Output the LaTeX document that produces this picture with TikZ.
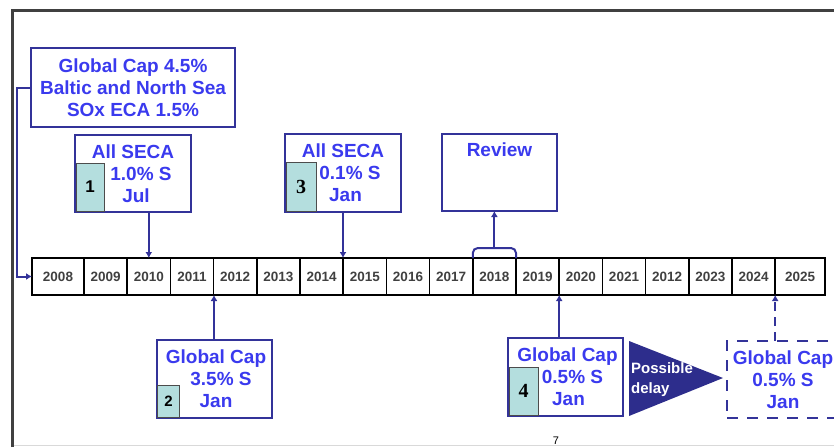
\documentclass[tikz,border=0pt]{standalone}
\usepackage{fontspec}
\setsansfont{Liberation Sans}
\setmainfont{Liberation Serif}
\usetikzlibrary{positioning,arrows.meta}
\definecolor{navy}{RGB}{51,51,153}
\definecolor{capblue}{RGB}{58,58,238}
\definecolor{numfill}{RGB}{180,222,222}
\definecolor{delayfill}{RGB}{45,45,140}
\newcommand{\pushr}[1]{\hspace*{#1}}
\tikzset{
  year/.style={draw=black, line width=1.6pt, outer sep=0pt, inner sep=0pt,
    minimum width=43.2, minimum height=37, text=black!75,
    font=\sffamily\bfseries\fontsize{13.5}{15}\selectfont},
  captext/.style={align=center, text=capblue, inner sep=2pt,
    font=\sffamily\bfseries\fontsize{19}{22}\selectfont},
  capbox/.style={captext, draw=navy, line width=2pt, outer sep=0pt},
  numbox/.style={draw=black!70, fill=numfill, line width=1pt, inner sep=0pt,
    outer sep=0pt, anchor=south west,
    font=\sffamily\bfseries\fontsize{17}{19}\selectfont},
  link/.style={draw=navy, line width=2pt, -{Latex[length=6pt,width=7pt]}},
}
\begin{document}
\begin{tikzpicture}[x=1pt, y=-1pt]
\useasboundingbox (0,0) rectangle (834,447);
\clip (0,0) rectangle (834,447);
% Frame
\draw[black!75, line width=3pt] (12,447) -- (12,10) -- (834,10);
\draw[black!15, line width=1pt] (14,445.5) -- (834,445.5);
% Nodes
\node(y2008)[year, minimum width=52] at (58,276.5){2008};
\node(y2009)[year, right = 0pt of y2008]{2009};
\node(y2010)[year, right = 0pt of y2009]{2010};
\node(y2011)[year, right = 0pt of y2010]{2011};
\node(y2012)[year, right = 0pt of y2011]{2012};
\node(y2013)[year, right = 0pt of y2012]{2013};
\node(y2014)[year, right = 0pt of y2013]{2014};
\node(y2015)[year, right = 0pt of y2014]{2015};
\node(y2016)[year, right = 0pt of y2015]{2016};
\node(y2017)[year, right = 0pt of y2016]{2017};
\node(y2018)[year, right = 0pt of y2017]{2018};
\node(y2019)[year, right = 0pt of y2018]{2019};
\node(y2020)[year, right = 0pt of y2019]{2020};
\node(y2021)[year, right = 0pt of y2020]{2021};
\node(y2022)[year, right = 0pt of y2021]{2012};
\node(y2023)[year, right = 0pt of y2022]{2023};
\node(y2024)[year, right = 0pt of y2023]{2024};
\node(y2025)[year, minimum width=50, right = 0pt of y2024]{2025};
\node(gcap)[capbox, minimum width=204, minimum height=79] at (133,87.5){Global Cap 4.5\%\\Baltic and North Sea\\SOx ECA 1.5\%};
\node(seca1)[capbox, minimum width=116, minimum height=77] at (133,173.5){All SECA\\\pushr{16pt}1.0\% S\\\pushr{6pt}Jul};
\node(n1)[numbox, minimum width=28, minimum height=48] at ([shift={(1pt,1pt)}]seca1.south west){1};
\node(seca3)[capbox, minimum width=116, minimum height=78] at (343,173){All SECA\\\pushr{14pt}0.1\% S\\\pushr{5pt}Jan};
\node(n3)[numbox, minimum width=30, minimum height=49, font=\rmfamily\bfseries\fontsize{20}{22}\selectfont] at ([shift={(1pt,1pt)}]seca3.south west){3};
\node(review)[capbox, minimum width=115, minimum height=77] at (499.5,172.5){};
\node(revtext)[captext] at (499.5,150){Review};
\node(glob2)[capbox, minimum width=115, minimum height=78] at (214,379){\pushr{4pt}Global Cap\\\pushr{14pt}3.5\% S\\\pushr{4pt}Jan};
\node(n2)[numbox, minimum width=22, minimum height=32, font=\sffamily\bfseries\fontsize{15}{17}\selectfont] at ([shift={(1pt,1pt)}]glob2.south west){2};
\node(glob4)[capbox, minimum width=115, minimum height=78] at (565.5,377){\pushr{4pt}Global Cap\\\pushr{14pt}0.5\% S\\\pushr{6pt}Jan};
\node(n4)[numbox, minimum width=29, minimum height=48, font=\rmfamily\bfseries\fontsize{20}{22}\selectfont] at ([shift={(1pt,1pt)}]glob4.south west){4};
\fill[delayfill] (629,341) -- (629,416) -- (723,378) -- cycle;
\node(delay)[anchor=west, align=left, text=white, inner sep=0pt, font=\sffamily\bfseries\fontsize{15}{20}\selectfont] at (631,380){Possible\\delay};
\node(later)[capbox, dash pattern=on 11pt off 9pt, minimum width=112, minimum height=77] at (783,379.5){Global Cap\\0.5\% S\\Jan};
\node(page)[anchor=north, inner sep=0pt, font=\sffamily\fontsize{11}{13}\selectfont] at (556,437){7};
% Arcs
\draw[link] (gcap.west) -- ++(-14,0) |- (y2008.west);
\draw[link] (seca1.south -| y2010) -- (y2010.north);
\draw[link] (seca3.south) -- (seca3.south |- y2015.north);
\draw[navy, line width=2pt, rounded corners=5pt] (y2018.north west) -- ++(0,-10) -| (y2018.north east);
\coordinate(brace) at ([yshift=10pt]y2018.north);
\draw[link] (brace) -- (brace |- review.south);
\draw[link] (glob2.north) -- (glob2.north |- y2012.south);
\draw[link] (glob4.north -| y2020.south west) -- (y2020.south west);
\draw[link, dash pattern=on 9pt off 6pt] (later.north -| y2025.south west) -- (y2025.south west);
\end{tikzpicture}
\end{document}
